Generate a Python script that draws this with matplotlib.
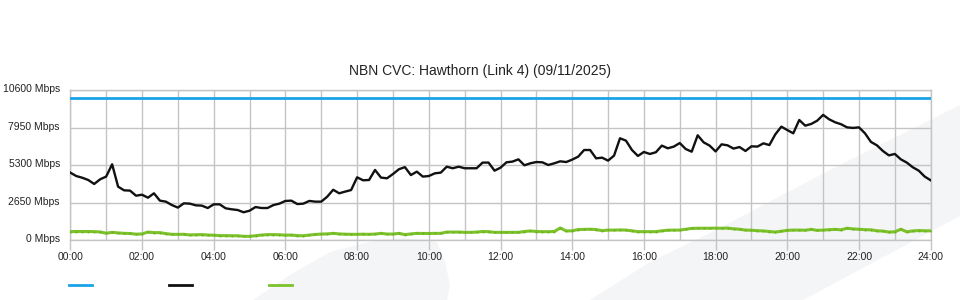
import numpy as np
import matplotlib
matplotlib.use("Agg")
import matplotlib.pyplot as plt
from matplotlib.lines import Line2D
from matplotlib.patches import Polygon
import matplotlib.transforms as mtransforms

plt.rcParams['font.family'] = ['Liberation Sans', 'DejaVu Sans']

title = "NBN CVC: Hawthorn (Link 4) (09/11/2025)"
y_ticks = [0, 2650, 5300, 7950, 10600]
y_labels = ["0 Mbps", "2650 Mbps", "5300 Mbps", "7950 Mbps", "10600 Mbps"]
x_ticks = list(range(0, 25, 2))
x_labels = ["%02d:00" % h for h in x_ticks]

capacity = 10000  # Mbps (blue)

# 10-minute samples, 00:00 .. 24:00
traffic = [
    4760, 4520, 4400, 4240, 3960, 4290, 4480, 5350, 3770, 3510,
    3490, 3130, 3200, 2990, 3300, 2780, 2710, 2470, 2290, 2590,
    2570, 2450, 2430, 2260, 2520, 2520, 2240, 2170, 2120, 1960,
    2070, 2330, 2260, 2260, 2470, 2570, 2760, 2780, 2540, 2570,
    2760, 2710, 2710, 3060, 3550, 3300, 3420, 3530, 4430, 4220,
    4240, 4950, 4410, 4360, 4660, 5000, 5150, 4590, 4830, 4480,
    4520, 4710, 4760, 5180, 5070, 5180, 5070, 5070, 5070, 5470,
    5470, 4900, 5110, 5490, 5540, 5700, 5280, 5420, 5510, 5490,
    5300, 5420, 5560, 5510, 5680, 5890, 6360, 6360, 5770, 5820,
    5610, 5960, 7190, 7020, 6360, 5940, 6220, 6080, 6200, 6670,
    6480, 6600, 6850, 6430, 6240, 7400, 6900, 6670, 6260, 6760,
    6690, 6460, 6570, 6290, 6620, 6600, 6830, 6710, 7470, 8010,
    7770, 7540, 8480, 8080, 8200, 8430, 8840, 8530, 8320, 8180,
    7960, 7920, 7960, 7540, 6930, 6690, 6290, 5980, 6080, 5700,
    5470, 5140, 4900, 4480, 4220,
]

other = [
    590, 600, 600, 600, 590, 570, 480, 540, 500, 470,
    460, 410, 430, 560, 520, 520, 450, 400, 400, 400,
    360, 370, 380, 350, 340, 310, 310, 300, 300, 260,
    260, 300, 350, 380, 380, 370, 340, 350, 310, 300,
    350, 390, 420, 430, 470, 430, 410, 400, 400, 410,
    400, 420, 470, 420, 420, 470, 380, 430, 470, 460,
    460, 470, 470, 560, 560, 560, 540, 540, 560, 600,
    590, 540, 540, 540, 540, 540, 600, 640, 600, 590,
    590, 600, 850, 640, 650, 740, 750, 760, 740, 660,
    700, 700, 710, 700, 650, 590, 590, 590, 590, 650,
    690, 700, 700, 760, 820, 830, 830, 830, 840, 830,
    840, 790, 760, 700, 690, 660, 640, 600, 560, 620,
    680, 700, 700, 690, 750, 680, 700, 730, 750, 720,
    830, 780, 760, 730, 720, 650, 630, 560, 580, 760,
    580, 640, 670, 650, 650,
]

hours = np.arange(len(traffic)) / 6.0

W, H = 960, 300
fig = plt.figure(figsize=(W / 100, H / 100), dpi=100)

# background watermark shapes (figure pixel coords -> fraction)
wm = "#f4f5f7"
def px(pts):
    return [(x / W, 1 - y / H) for x, y in pts]
fig.patches.append(Polygon(px([(253, 300), (290, 275), (330, 252), (373, 241), (403, 238),
                               (437, 242), (445, 262), (450, 285), (447, 300)]),
                           closed=True, transform=fig.transFigure, facecolor=wm,
                           edgecolor="none", zorder=-5))
fig.patches.append(Polygon(px([(590, 300), (650, 262), (710, 233), (830, 170), (960, 105),
                               (960, 216), (803, 300)]),
                           closed=True, transform=fig.transFigure, facecolor=wm,
                           edgecolor="none", zorder=-5))

left, right, top, bottom = 70.3, 930.7, 90, 240
ax = fig.add_axes([left / W, 1 - bottom / H, (right - left) / W, (bottom - top) / H])
ax.set_zorder(2)
ax.set_facecolor("none")

grid_c = "#c4c4c4"
ax.set_xlim(0, 24)
ax.set_ylim(0, 10600)
ax.set_xticks(x_ticks)
ax.set_xticklabels(x_labels)
ax.set_xticks(range(0, 25), minor=True)
ax.set_yticks(y_ticks)
ax.set_yticklabels(y_labels)
ax.grid(True, which="both", axis="x", color=grid_c, linewidth=1.0)
ax.grid(True, which="major", axis="y", color=grid_c, linewidth=1.0)
for s in ax.spines.values():
    s.set_color(grid_c)
    s.set_linewidth(1.0)
ax.tick_params(axis="x", which="major", length=7.5, width=1.0, color=grid_c,
               labelsize=7.5, pad=1.5, labelcolor="#222222")
ax.tick_params(axis="x", which="minor", length=0)
ax.tick_params(axis="y", which="major", length=0, labelsize=7.5, pad=7.5,
               labelcolor="#222222")
shift = mtransforms.ScaledTranslation(0, 2 / 100, fig.dpi_scale_trans)
for lab in ax.get_yticklabels():
    lab.set_transform(lab.get_transform() + shift)

blue, black, green = "#1aa3e8", "#111111", "#7cc22a"
ax.axhline(capacity, color=blue, linewidth=2.0, zorder=3)
ax.plot(hours, other, color=green, linewidth=2.2, zorder=3,
        marker="s", markersize=1.2, markeredgewidth=0, markerfacecolor="#6aae1e")
ax.plot(hours, traffic, color=black, linewidth=1.7, zorder=4)

fig.text(0.5, 1 - 71 / H, title, fontsize=10, color="#222222", ha="center", va="center")

# legend swatches (no labels)
for x0, c in [(69, blue), (169, black), (269, green)]:
    fig.add_artist(Line2D([x0 / W, (x0 + 23) / W], [1 - 285 / H, 1 - 285 / H],
                          color=c, linewidth=2.0, transform=fig.transFigure))

fig.savefig("out.png", dpi=100, facecolor="white")
